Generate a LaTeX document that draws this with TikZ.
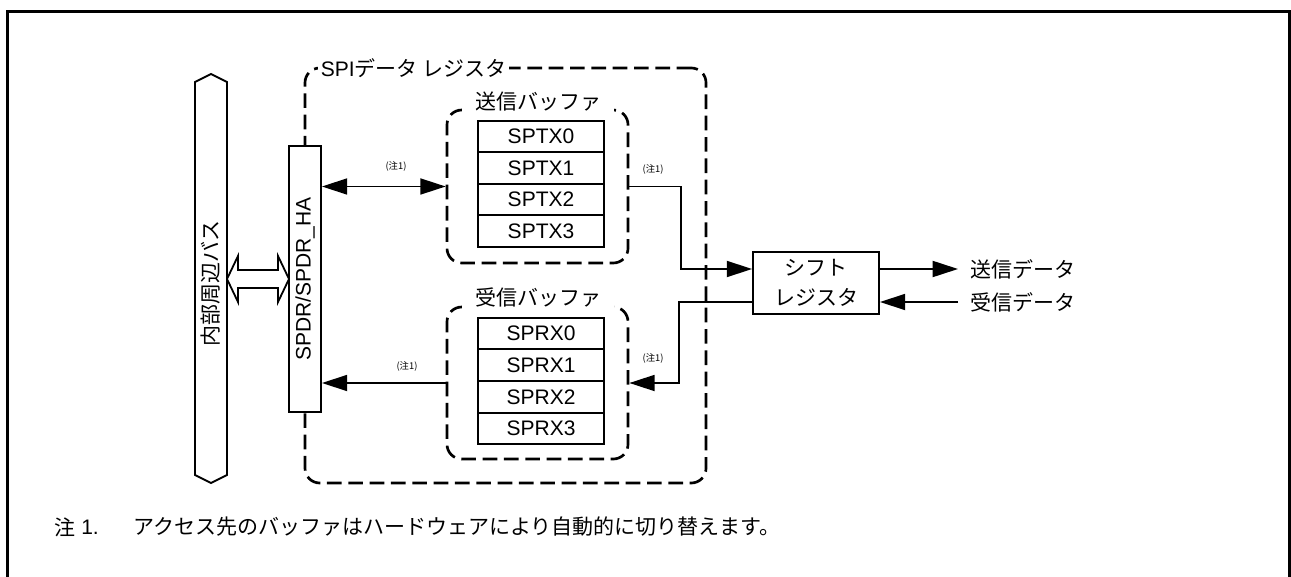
\documentclass[tikz,border=0pt]{standalone}
\usepackage{fontspec}
\setmainfont{Liberation Sans}
\newfontfamily\jp{Noto Sans CJK JP}
\usetikzlibrary{arrows.meta}
\begin{document}
\begin{tikzpicture}[x=0.75pt,y=-0.75pt,
  font=\fontsize{15.75pt}{22.5pt}\selectfont,
  jp/.style={font=\jp\fontsize{15.75pt}{22.5pt}\selectfont},
  thin/.style={line width=1.35pt},
  dashbox/.style={draw, line width=2pt, dash pattern=on 11pt off 5pt, rounded corners=11pt, inner sep=0pt},
  cell/.style={draw, line width=1.35pt, minimum width=94.5pt, minimum height=23.6pt, inner sep=0pt, fill=white},
  arr/.style={line width=1.35pt, -{Triangle[length=19pt,width=12pt]}},
  darr/.style={line width=1.35pt, {Triangle[length=19pt,width=12pt]}-{Triangle[length=19pt,width=12pt]}},
  note/.style={font=\jp\fontsize{7pt}{8pt}\selectfont, inner sep=0pt},
  lbl/.style={fill=white, inner ysep=3pt},
  ]
\useasboundingbox (0,0) rectangle (1291,577);
% outer frame
\draw[line width=2.25pt] (7,577) -- (7,12) -- (1289,12) -- (1289,577);

% internal bus
\draw[thin, fill=white] (195,82) -- (211,74) -- (227,82) -- (227,475) -- (211,483) -- (195,475) -- cycle;
\node[jp, rotate=90] (bus) at (211,283) {内部周辺バス};

% hollow double arrow
\draw[thin, fill=white] (227,279) -- (238,256) -- (238,270) -- (278,270) -- (278,256) -- (289,279)
  -- (278,302) -- (278,288) -- (238,288) -- (238,302) -- cycle;

% SPI data register (outer dashed box)
\node[dashbox, minimum width=300.75pt, minimum height=311.25pt] (spi) at (505.5,275.5) {};
\node[lbl, inner xsep=2pt, inner ysep=1pt, anchor=west] (spilbl) at (318,68) {SPI{\jp データ レジスタ}};

% SPDR box
\node[draw, thin, fill=white, minimum width=24pt, minimum height=199.5pt, inner sep=0pt] (spdr) at (305,279) {};
\node[rotate=90] (spdrtxt) at (spdr.center) {SPDR/SPDR\_HA};

% transmit buffer
\node[dashbox, minimum width=135.75pt, minimum height=114.75pt] (txbuf) at (537.5,186.5) {};
\node[lbl, jp, inner xsep=10pt] (txlbl) at (538,102) {送信バッファ};
\node[cell] (tx0) at (541,136.5) {SPTX0};
\node[cell] (tx1) at (541,168) {SPTX1};
\node[cell] (tx2) at (541,199.5) {SPTX2};
\node[cell] (tx3) at (541,231) {SPTX3};

% receive buffer
\node[dashbox, minimum width=135.75pt, minimum height=114pt] (rxbuf) at (537.5,383) {};
\node[lbl, jp, inner xsep=10pt] (rxlbl) at (538,297) {受信バッファ};
\node[cell] (rx0) at (541,333.5) {SPRX0};
\node[cell] (rx1) at (541,365) {SPRX1};
\node[cell] (rx2) at (541,397) {SPRX2};
\node[cell] (rx3) at (541,428.5) {SPRX3};

% shift register
\node[draw, thin, jp, align=center, minimum width=94.5pt, minimum height=46.5pt, inner sep=0pt] (sr) at (816,283) {シフト\\レジスタ};

% data labels
\node[jp, anchor=west, inner sep=0pt] (txd) at (970,269) {送信データ};
\node[jp, anchor=west, inner sep=0pt] (rxd) at (970,302) {受信データ};

% connectors
\draw[darr] (spdr.east |- txbuf.west) -- (txbuf.west);
\draw[arr] (rxbuf.west) -- (spdr.east |- rxbuf.west);
\draw[arr] (txbuf.east) -- ++(52,0) |- ([yshift=10.5pt]sr.west);
\draw[arr] ([yshift=-14.25pt]sr.west) -- ++(-73,0) |- (rxbuf.east);
\draw[arr, shorten >=9pt] ([yshift=10.5pt]sr.east) -- ([yshift=10.5pt]sr.east -| txd.west);
\draw[arr, shorten <=9pt] ([yshift=-14.25pt]sr.east -| rxd.west) -- ([yshift=-14.25pt]sr.east);

% note marks
\node[note] (m1) at (396,166) {(注1)};
\node[note] (m2) at (407,366) {(注1)};
\node[note] (m3) at (653,169) {(注1)};
\node[note] (m4) at (653,358) {(注1)};

% footnote
\node[jp, anchor=west, inner sep=0pt] (fnmark) at (54,527) {注};
\node[anchor=west, inner sep=0pt] (fnnum) at (81,527) {1.};
\node[jp, anchor=west, inner sep=0pt] (fntext) at (133,527) {アクセス先のバッファはハードウェアにより自動的に切り替えます。};
\end{tikzpicture}
\end{document}
